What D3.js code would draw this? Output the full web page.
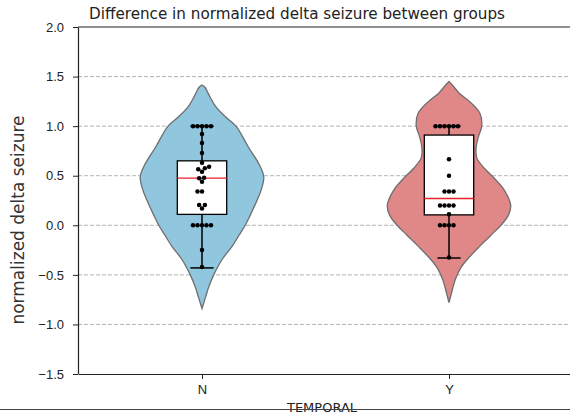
<!DOCTYPE html>
<html>
<head>
<meta charset="utf-8">
<script src="https://cdn.jsdelivr.net/npm/d3@7"></script>
<style>
  body { margin: 0; background: #fff; }
  svg { display: block; font-family: "DejaVu Sans", sans-serif; }
</style>
</head>
<body>
<div id="chart"></div>
<script>
// categories on the x axis
var groups = ["N", "Y"];
var groupColors = ["#90c6de", "#e08888"];

// swarm points of each group
var pointsN = [1.0, 1.0, 1.0, 1.0, 1.0, 0.92, 0.83, 0.73, 0.63, 0.59, 0.575, 0.565, 0.54,
               0.48, 0.475, 0.44, 0.34, 0.34, 0.205, 0.205, 0.17,
               0, 0, 0, 0, 0, -0.25, -0.42];
var pointsY = [1.0, 1.0, 1.0, 1.0, 1.0, 1.0, 0.667, 0.5, 0.34, 0.34, 0.34,
               0.2, 0.2, 0.2, 0.2, 0.112, 0, 0, 0, 0, -0.325];

// box stats: [whisker low, q1, median, q3, whisker high]
var boxN = [-0.43, 0.11, 0.475, 0.65, 1.0];
var boxY = [-0.33, 0.105, 0.27, 0.91, 1.0];

// violin outlines: [value, relative half width]
var violinN = [[1.415, 0.0], [1.39, 0.05], [1.33, 0.10], [1.2, 0.22], [1.1, 0.37],
               [1.0, 0.55], [0.79, 0.75], [0.62, 0.92], [0.49, 1.0], [0.36, 0.96],
               [0.25, 0.89], [0.1, 0.78], [0.0, 0.70], [-0.1, 0.60], [-0.21, 0.49],
               [-0.35, 0.32], [-0.5, 0.19], [-0.62, 0.11], [-0.72, 0.06], [-0.84, 0.0]];
var violinY = [[1.45, 0.0], [1.41, 0.06], [1.33, 0.17], [1.25, 0.33], [1.13, 0.50],
               [1.0, 0.53], [0.9, 0.48], [0.79, 0.44], [0.68, 0.45], [0.57, 0.58],
               [0.47, 0.74], [0.35, 0.90], [0.2, 1.0], [0.1, 0.96], [0.0, 0.84],
               [-0.1, 0.68], [-0.21, 0.50], [-0.32, 0.33], [-0.42, 0.20], [-0.55, 0.10],
               [-0.66, 0.05], [-0.78, 0.0]];

var yTicks = [-1.5, -1.0, -0.5, 0.0, 0.5, 1.0, 1.5, 2.0];
var gridTicks = [-1.0, -0.5, 0.0, 0.5, 1.0, 1.5];

var W = 570, H = 412;
var svg = d3.select("#chart").append("svg")
   .attr("width", W)
   .attr("height", H);

var x = d3.scaleLinear().domain([-0.5, 1.5]).range([78.5, 572.5]);
var y = d3.scaleLinear().domain([-1.5, 2.0]).range([374, 27]);

//grid behind everything
svg.append("g").selectAll("line")
   .data(gridTicks)
   .enter().append("line")
   .attr("x1", 78).attr("x2", W)
   .attr("y1", function(d) { return y(d); })
   .attr("y2", function(d) { return y(d); })
   .style("stroke", "#b4b4b4")
   .style("stroke-width", 1)
   .style("stroke-dasharray", "4,2");

//place dots so they do not overlap, closest to the center first
function swarm(values, cx, d) {
  var placed = [];
  values.slice().sort(d3.ascending).forEach(function(v) {
    var py = y(v);
    var cands = [0];
    placed.forEach(function(p) {
      var dy = Math.abs(p.y - py);
      if (dy < d) {
        var dx = Math.sqrt(d * d - dy * dy);
        cands.push(p.dx - dx, p.dx + dx);
      }
    });
    cands.sort(function(a, b) { return Math.abs(a) - Math.abs(b); });
    var best = cands.find(function(c) {
      return placed.every(function(p) {
        return Math.pow(p.dx - c, 2) + Math.pow(p.y - py, 2) >= d * d - 1e-6;
      });
    });
    placed.push({dx: best, y: py});
  });
  return placed.map(function(p) { return {x: cx + p.dx, y: p.y}; });
}

var allPoints = [pointsN, pointsY];
var allBoxes = [boxN, boxY];
var allViolins = [violinN, violinY];
var halfViolin = 0.25, halfBox = 0.1, halfCap = 0.047;

allPoints.forEach(function(pts, gi) {
  var g = svg.append("g");

  //violin
  var area = d3.area()
     .curve(d3.curveCatmullRom)
     .y(function(d) { return y(d[0]); })
     .x0(function(d) { return x(gi - d[1] * halfViolin); })
     .x1(function(d) { return x(gi + d[1] * halfViolin); });
  g.append("path")
     .datum(allViolins[gi])
     .attr("d", area)
     .style("fill", groupColors[gi])
     .style("stroke", "#6e6e6e")
     .style("stroke-width", 1.3);

  var b = allBoxes[gi];
  //whiskers
  g.append("line")
     .attr("x1", x(gi)).attr("x2", x(gi))
     .attr("y1", y(b[0])).attr("y2", y(b[4]))
     .style("stroke", "#000").style("stroke-width", 1.5);
  [b[0], b[4]].forEach(function(v) {
    g.append("line")
       .attr("x1", x(gi - halfCap)).attr("x2", x(gi + halfCap))
       .attr("y1", y(v)).attr("y2", y(v))
       .style("stroke", "#000").style("stroke-width", 1.5);
  });
  //box
  g.append("rect")
     .attr("x", x(gi - halfBox))
     .attr("y", y(b[3]))
     .attr("width", x(gi + halfBox) - x(gi - halfBox))
     .attr("height", y(b[1]) - y(b[3]))
     .style("fill", "#fff")
     .style("stroke", "#000")
     .style("stroke-width", 1.3);
  //median
  g.append("line")
     .attr("x1", x(gi - halfBox)).attr("x2", x(gi + halfBox))
     .attr("y1", y(b[2])).attr("y2", y(b[2]))
     .style("stroke", "#e8202a").style("stroke-width", 1.3);

  //swarm dots
  g.selectAll("circle")
     .data(swarm(pts, x(gi), 4.5))
     .enter().append("circle")
     .attr("cx", function(d) { return d.x; })
     .attr("cy", function(d) { return d.y; })
     .attr("r", 2.25)
     .style("fill", "#000");
});

//axes
var yAxis = d3.axisLeft(y)
   .tickValues(yTicks)
   .tickFormat(d3.format(".1f"))
   .tickSize(5)
   .tickSizeOuter(0)
   .tickPadding(9);
var gy = svg.append("g")
   .attr("transform", "translate(78,0)")
   .call(yAxis);
gy.selectAll("text").style("font-size", "13px").style("fill", "#222");

var xAxis = d3.axisBottom(x)
   .tickValues([0, 1])
   .tickFormat(function(d) { return groups[d]; })
   .tickSize(5)
   .tickSizeOuter(0)
   .tickPadding(6);
var gx = svg.append("g")
   .attr("transform", "translate(0,374)")
   .call(xAxis);
gx.selectAll("text").style("font-size", "13px").style("fill", "#222");

[gx, gy].forEach(function(ax) {
  ax.select(".domain").style("stroke", "#222").style("stroke-width", 1.2);
  ax.selectAll(".tick line").style("stroke", "#222");
});

//top spine
svg.append("line")
   .attr("x1", 78).attr("x2", W)
   .attr("y1", y(2.0)).attr("y2", y(2.0))
   .style("stroke", "#222").style("stroke-width", 1.2);

//title and labels
svg.append("text")
   .text("Difference in normalized delta seizure between groups")
   .attr("x", 297)
   .attr("y", 19)
   .attr("text-anchor", "middle")
   .style("font-size", "15.2px")
   .style("fill", "#222");

svg.append("text")
   .text("normalized delta seizure")
   .attr("transform", "translate(24,220) rotate(-90)")
   .attr("text-anchor", "middle")
   .style("font-size", "17px")
   .style("fill", "#333");

svg.append("text")
   .text("TEMPORAL")
   .attr("x", 322)
   .attr("y", 411.5)
   .attr("text-anchor", "middle")
   .style("font-size", "13px")
   .style("fill", "#222");

//bottom border line of the screenshot
svg.append("line")
   .attr("x1", 0).attr("x2", W)
   .attr("y1", 409.5).attr("y2", 409.5)
   .style("stroke", "#444")
   .style("stroke-width", 1);
</script>
</body>
</html>
